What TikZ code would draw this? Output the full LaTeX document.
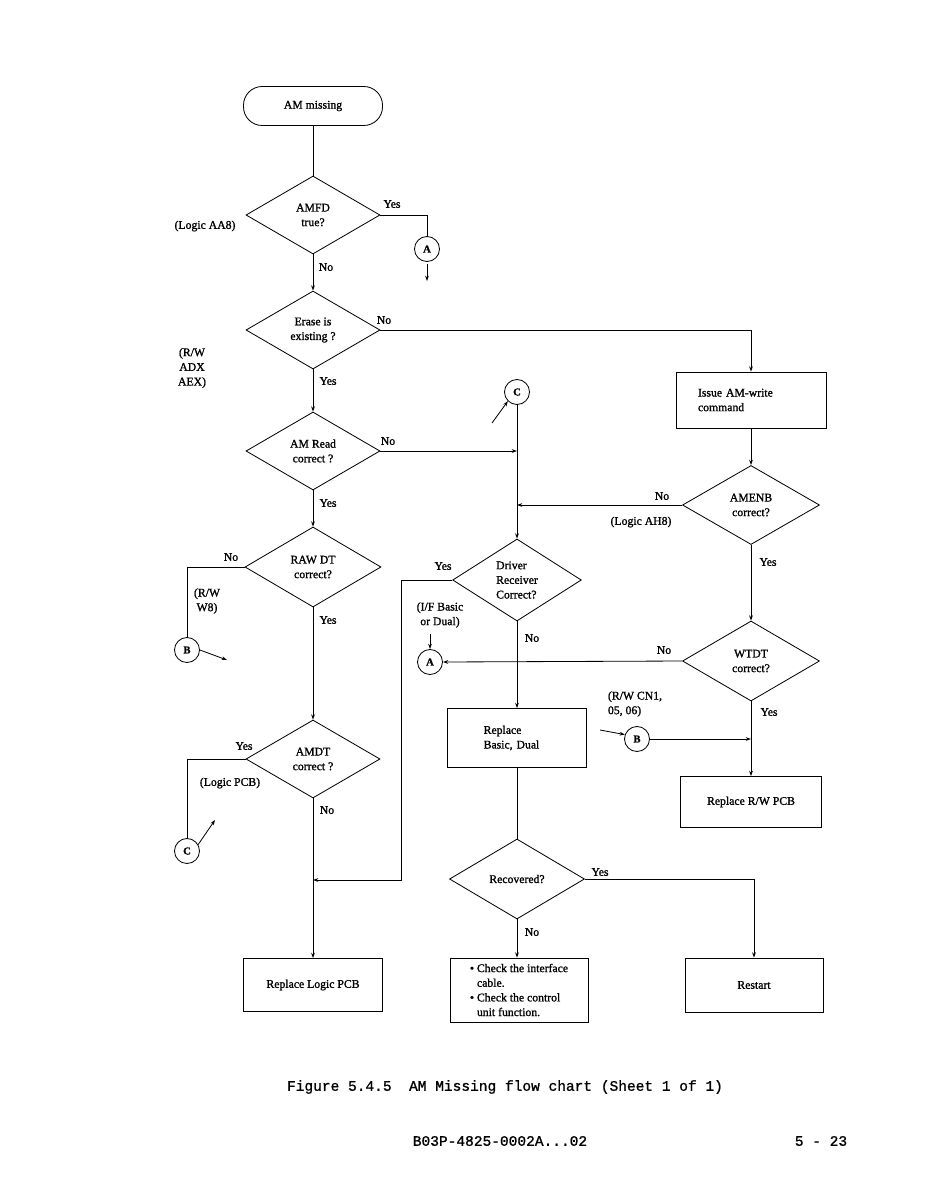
\documentclass[tikz,border=0pt]{standalone}
\usepackage{fontspec}
\setmainfont{Liberation Serif}[RawFeature={embolden=1.2}]
\newfontfamily\monofont{Liberation Mono}[RawFeature={embolden=1.0}]
\usetikzlibrary{shapes.geometric,arrows.meta}
\begin{document}
\begin{tikzpicture}[x=0.03cm,y=-0.03cm,line width=0.7pt,
  every node/.style={font=\fontsize{10}{12.5}\selectfont},
  arr/.style={-{Stealth[length=4.5pt,width=3.2pt]}},
  decbox/.style={draw,diamond,inner sep=0pt,minimum width=4.02cm,minimum height=2.34cm,align=center},
  procbox/.style={draw,rectangle,inner sep=0pt,align=center},
  termbox/.style={draw,rectangle,rounded corners=0.56cm,minimum width=4.17cm,minimum height=1.17cm,inner sep=0pt},
  conn/.style={draw,circle,minimum size=0.75cm,inner sep=0pt,font=\bfseries\fontsize{9}{10}\selectfont},
  lbl/.style={inner sep=0pt,align=center},
  captext/.style={inner sep=0pt,font=\monofont\fontsize{12.4}{14}\selectfont}
]
\useasboundingbox (0,0) rectangle (936,1198);

% left column
\node[termbox] (start) at (313,106) {AM missing};
\node[decbox] (amfd) at (313,215) {AMFD\\true?};
\node[decbox] (erase) at (313,330) {Erase is\\existing ?};
\node[decbox] (amread) at (313,451) {AM Read\\correct ?};
\node[decbox,minimum width=4.08cm,minimum height=2.4cm] (rawdt) at (313,567) {RAW DT\\correct?};
\node[decbox] (amdt) at (313,759) {AMDT\\correct ?};
\node[procbox,minimum width=4.17cm,minimum height=1.59cm] (logicpcb) at (313,985) {Replace Logic PCB};

% middle column
\node[conn] (cC2) at (517,392) {C};
\node[decbox,minimum width=3.86cm,minimum height=2.46cm,align=left] (driver) at (517,580) {Driver\\Receiver\\Correct?};
\node[procbox,minimum width=4.17cm,minimum height=1.77cm,text width=2.0cm,inner xsep=1.085cm,align=left] (rbasic) at (517,738) {Replace\\Basic, Dual};
\node[decbox,minimum width=4.05cm,minimum height=2.4cm] (recov) at (517,879) {Recovered?};
\node[procbox,minimum width=4.14cm,minimum height=1.92cm,align=left] (check) at (519,990) {\textbullet\ Check the interface\\\phantom{\textbullet\ }cable.\\\textbullet\ Check the control\\\phantom{\textbullet\ }unit function.};

% right column
\node[procbox,minimum width=4.5cm,minimum height=1.68cm,text width=3.18cm,inner xsep=0.66cm,align=left] (issue) at (751,400) {Issue AM-write\\command};
\node[decbox,minimum width=4.11cm,minimum height=2.37cm] (amenb) at (751,505) {AMENB\\correct?};
\node[decbox,minimum width=4.11cm,minimum height=2.4cm] (wtdt) at (751,661) {WTDT\\correct?};
\node[procbox,minimum width=4.23cm,minimum height=1.53cm] (rrw) at (751,802) {Replace R/W PCB};
\node[procbox,minimum width=4.14cm,minimum height=1.62cm] (restart) at (754,985) {Restart};

% connectors (circles)
\node[conn] (cA1) at (427,249) {A};
\node[conn] (cB1) at (187,650) {B};
\node[conn] (cC1) at (187,851) {C};
\node[conn] (cA2) at (430,662) {A};
\node[conn] (cB2) at (637,739) {B};

\coordinate (aout) at (427,281);
\coordinate (bout) at (227,660);
\coordinate (cout) at (215,820);
\coordinate (cin) at (492,423);
\coordinate (ain) at (430,634);
\coordinate (bin) at (600,730);
\coordinate (ybend) at (401,880);
\coordinate (join) at (313,880);

% flow lines
\draw (start) -- (amfd);
\draw (amfd.east) -| (cA1.north);
\draw[arr,shorten <=2pt] (cA1.south) -- (aout);
\draw[arr] (amfd.south) -- (erase.north);
\draw[arr] (erase.east) -| (issue.north);
\draw[arr] (erase.south) -- (amread.north);
\draw[arr] (amread.east) -- (amread.east -| cC2.south);
\draw[arr] (amread.south) -- (rawdt.north);
\draw (rawdt.west) -| (cB1.north);
\draw[arr] (cB1.east) -- (bout);
\draw[arr] (rawdt.south) -- (amdt.north);
\draw (amdt.west) -| (cC1.north);
\draw[arr] (cC1.30) -- (cout);
\draw[arr] (amdt.south) -- (logicpcb.north);
\draw[arr] (driver.west) -| (ybend) -- (join);

\draw[arr] (cin) -- (cC2.225);
\draw[arr] (cC2.south) -- (driver.north);
\draw[arr] (amenb.west) -- (amenb.west -| driver.north);
\draw[arr] (ain) -- (cA2.north);
\draw[arr] (wtdt.west) -- (cA2.east);
\draw[arr] (driver.south) -- (rbasic.north);
\draw (rbasic.south) -- (recov.north);
\draw[arr] (recov.east) -| (restart.north);
\draw[arr] (recov.south) -- (recov.south |- check.north);

\draw[arr] (issue.south) -- (amenb.north);
\draw[arr] (amenb.south) -- (wtdt.north);
\draw[arr] (wtdt.south) -- (rrw.north);
\draw[arr] (bin) -- (cB2.160);
\draw[arr] (cB2.east) -- (cB2.east -| rrw.north);

% labels
\node[lbl] (l1) at (392,204) {Yes};
\node[lbl] (l2) at (205,226) {(Logic AA8)};
\node[lbl] (l3) at (326,267) {No};
\node[lbl] (l4) at (384,320) {No};
\node[lbl] (l5) at (192,368) {(R/W\\ADX\\AEX)};
\node[lbl] (l6) at (328,381) {Yes};
\node[lbl] (l7) at (388,441) {No};
\node[lbl] (l8) at (328,503) {Yes};
\node[lbl] (l9) at (231,557) {No};
\node[lbl] (l10) at (207,601) {(R/W\\W8)};
\node[lbl] (l11) at (328,620) {Yes};
\node[lbl] (l12) at (244,746) {Yes};
\node[lbl] (l13) at (230,783) {(Logic PCB)};
\node[lbl] (l14) at (327,810) {No};
\node[lbl] (l15) at (443,566) {Yes};
\node[lbl] (l16) at (440,615) {(I/F Basic\\or Dual)};
\node[lbl] (l17) at (532,638) {No};
\node[lbl] (l18) at (662,496) {No};
\node[lbl] (l19) at (641,522) {(Logic AH8)};
\node[lbl] (l20) at (768,562) {Yes};
\node[lbl] (l21) at (664,650) {No};
\node[lbl,align=left] (l22) at (635,704) {(R/W CN1,\\05, 06)};
\node[lbl] (l23) at (769,712) {Yes};
\node[lbl] (l24) at (600,872) {Yes};
\node[lbl] (l25) at (532,932) {No};

% caption and footer
\node[captext] (caption) at (505,1087) {Figure 5.4.5\ \ AM Missing flow chart (Sheet 1 of 1)};
\node[captext] (doc) at (500,1141) {B03P-4825-0002A...02};
\node[captext] (page) at (821,1141) {5 - 23};
\end{tikzpicture}
\end{document}
